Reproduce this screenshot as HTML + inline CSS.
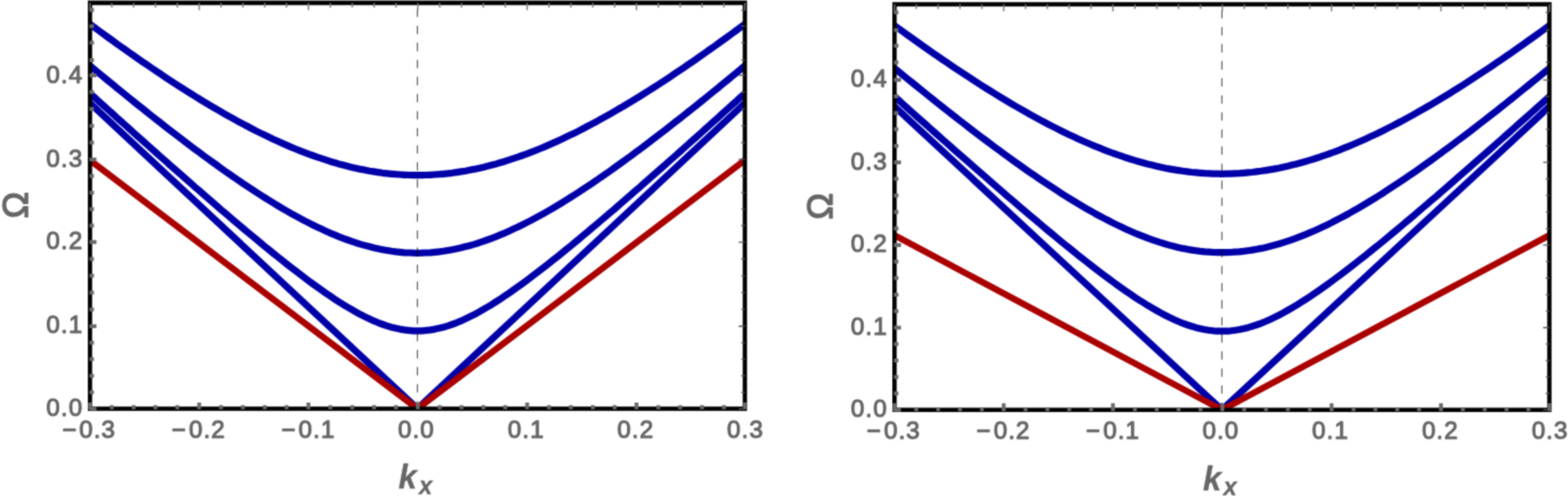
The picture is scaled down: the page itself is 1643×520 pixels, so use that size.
<!DOCTYPE html>
<html lang="en">
<head>
<meta charset="utf-8">
<title>Dispersion relations</title>
<style>
html,body{margin:0;padding:0;background:#fff;}
body{width:1643px;height:520px;overflow:hidden;}
svg{display:block;font-family:"Liberation Sans",Arial,Helvetica,sans-serif;}
</style>
</head>
<body>
<svg width="1643" height="520" viewBox="0 0 1643 520">
<defs>
<filter id="soft" x="0" y="0" width="1643" height="520" filterUnits="userSpaceOnUse" color-interpolation-filters="sRGB">
<feConvolveMatrix order="3" kernelMatrix="0.0400 0.1200 0.0400 0.1200 0.3600 0.1200 0.0400 0.1200 0.0400" edgeMode="duplicate" preserveAlpha="false"/>
</filter>
</defs>
<g filter="url(#soft)">
<rect width="1643" height="520" fill="#fff"/>
<g>
<clipPath id="clip1"><rect x="94.3" y="3.1" width="686.20" height="425.40"/></clipPath>
<g clip-path="url(#clip1)" fill="none" stroke="#0000a9" stroke-width="7.2" stroke-linejoin="round">
<polyline points="71.4,8.1 76.0,11.6 80.6,15.0 85.2,18.4 89.7,21.9 94.3,25.3 98.9,28.6 103.4,32.0 108.0,35.4 112.6,38.7 117.2,42.0 121.7,45.3 126.3,48.6 130.9,51.8 135.5,55.1 140.0,58.3 144.6,61.5 149.2,64.7 153.8,67.8 158.3,70.9 162.9,74.0 167.5,77.1 172.1,80.2 176.6,83.2 181.2,86.2 185.8,89.2 190.4,92.1 194.9,95.0 199.5,97.9 204.1,100.8 208.7,103.6 213.2,106.4 217.8,109.1 222.4,111.9 227.0,114.5 231.5,117.2 236.1,119.8 240.7,122.4 245.3,124.9 249.8,127.5 254.4,129.9 259.0,132.3 263.6,134.7 268.1,137.1 272.7,139.4 277.3,141.6 281.9,143.8 286.4,146.0 291.0,148.1 295.6,150.1 300.2,152.1 304.7,154.1 309.3,156.0 313.9,157.8 318.5,159.6 323.0,161.4 327.6,163.0 332.2,164.7 336.8,166.2 341.3,167.7 345.9,169.2 350.5,170.5 355.1,171.9 359.6,173.1 364.2,174.3 368.8,175.4 373.4,176.4 377.9,177.4 382.5,178.3 387.1,179.2 391.7,179.9 396.2,180.6 400.8,181.3 405.4,181.8 410.0,182.3 414.5,182.7 419.1,183.0 423.7,183.3 428.3,183.5 432.8,183.6 437.4,183.6 442.0,183.6 446.5,183.5 451.1,183.3 455.7,183.0 460.3,182.7 464.8,182.3 469.4,181.8 474.0,181.3 478.6,180.6 483.1,179.9 487.7,179.2 492.3,178.3 496.9,177.4 501.4,176.4 506.0,175.4 510.6,174.3 515.2,173.1 519.7,171.9 524.3,170.5 528.9,169.2 533.5,167.7 538.0,166.2 542.6,164.7 547.2,163.0 551.8,161.4 556.3,159.6 560.9,157.8 565.5,156.0 570.1,154.1 574.6,152.1 579.2,150.1 583.8,148.1 588.4,146.0 592.9,143.8 597.5,141.6 602.1,139.4 606.7,137.1 611.2,134.7 615.8,132.3 620.4,129.9 625.0,127.5 629.5,124.9 634.1,122.4 638.7,119.8 643.3,117.2 647.8,114.5 652.4,111.9 657.0,109.1 661.6,106.4 666.1,103.6 670.7,100.8 675.3,97.9 679.9,95.0 684.4,92.1 689.0,89.2 693.6,86.2 698.2,83.2 702.7,80.2 707.3,77.1 711.9,74.0 716.5,70.9 721.0,67.8 725.6,64.7 730.2,61.5 734.8,58.3 739.3,55.1 743.9,51.8 748.5,48.6 753.1,45.3 757.6,42.0 762.2,38.7 766.8,35.4 771.4,32.0 775.9,28.6 780.5,25.3 785.1,21.9 789.6,18.4 794.2,15.0 798.8,11.6 803.4,8.1"/>
<polyline points="71.4,49.8 76.0,53.6 80.6,57.5 85.2,61.3 89.7,65.1 94.3,68.9 98.9,72.7 103.4,76.5 108.0,80.3 112.6,84.1 117.2,87.8 121.7,91.6 126.3,95.3 130.9,99.0 135.5,102.7 140.0,106.4 144.6,110.1 149.2,113.7 153.8,117.4 158.3,121.0 162.9,124.6 167.5,128.2 172.1,131.8 176.6,135.4 181.2,138.9 185.8,142.4 190.4,145.9 194.9,149.4 199.5,152.8 204.1,156.3 208.7,159.7 213.2,163.1 217.8,166.4 222.4,169.7 227.0,173.0 231.5,176.3 236.1,179.6 240.7,182.8 245.3,185.9 249.8,189.1 254.4,192.2 259.0,195.3 263.6,198.3 268.1,201.3 272.7,204.2 277.3,207.1 281.9,210.0 286.4,212.8 291.0,215.6 295.6,218.3 300.2,221.0 304.7,223.6 309.3,226.1 313.9,228.6 318.5,231.1 323.0,233.4 327.6,235.7 332.2,238.0 336.8,240.1 341.3,242.2 345.9,244.3 350.5,246.2 355.1,248.1 359.6,249.8 364.2,251.5 368.8,253.1 373.4,254.7 377.9,256.1 382.5,257.4 387.1,258.6 391.7,259.8 396.2,260.8 400.8,261.7 405.4,262.5 410.0,263.3 414.5,263.9 419.1,264.4 423.7,264.8 428.3,265.0 432.8,265.2 437.4,265.3 442.0,265.2 446.5,265.0 451.1,264.8 455.7,264.4 460.3,263.9 464.8,263.3 469.4,262.5 474.0,261.7 478.6,260.8 483.1,259.8 487.7,258.6 492.3,257.4 496.9,256.1 501.4,254.7 506.0,253.1 510.6,251.5 515.2,249.8 519.7,248.1 524.3,246.2 528.9,244.3 533.5,242.2 538.0,240.1 542.6,238.0 547.2,235.7 551.8,233.4 556.3,231.1 560.9,228.6 565.5,226.1 570.1,223.6 574.6,221.0 579.2,218.3 583.8,215.6 588.4,212.8 592.9,210.0 597.5,207.1 602.1,204.2 606.7,201.3 611.2,198.3 615.8,195.3 620.4,192.2 625.0,189.1 629.5,185.9 634.1,182.8 638.7,179.6 643.3,176.3 647.8,173.0 652.4,169.7 657.0,166.4 661.6,163.1 666.1,159.7 670.7,156.3 675.3,152.8 679.9,149.4 684.4,145.9 689.0,142.4 693.6,138.9 698.2,135.4 702.7,131.8 707.3,128.2 711.9,124.6 716.5,121.0 721.0,117.4 725.6,113.7 730.2,110.1 734.8,106.4 739.3,102.7 743.9,99.0 748.5,95.3 753.1,91.6 757.6,87.8 762.2,84.1 766.8,80.3 771.4,76.5 775.9,72.7 780.5,68.9 785.1,65.1 789.6,61.3 794.2,57.5 798.8,53.6 803.4,49.8"/>
<polyline points="71.4,77.1 76.0,81.3 80.6,85.5 85.2,89.6 89.7,93.7 94.3,97.9 98.9,102.0 103.4,106.2 108.0,110.3 112.6,114.4 117.2,118.5 121.7,122.7 126.3,126.8 130.9,130.9 135.5,135.0 140.0,139.1 144.6,143.2 149.2,147.3 153.8,151.4 158.3,155.4 162.9,159.5 167.5,163.6 172.1,167.6 176.6,171.7 181.2,175.7 185.8,179.8 190.4,183.8 194.9,187.8 199.5,191.8 204.1,195.9 208.7,199.8 213.2,203.8 217.8,207.8 222.4,211.8 227.0,215.7 231.5,219.7 236.1,223.6 240.7,227.5 245.3,231.4 249.8,235.3 254.4,239.1 259.0,243.0 263.6,246.8 268.1,250.6 272.7,254.4 277.3,258.2 281.9,261.9 286.4,265.6 291.0,269.3 295.6,272.9 300.2,276.6 304.7,280.1 309.3,283.7 313.9,287.2 318.5,290.7 323.0,294.1 327.6,297.5 332.2,300.8 336.8,304.0 341.3,307.2 345.9,310.3 350.5,313.4 355.1,316.4 359.6,319.3 364.2,322.0 368.8,324.7 373.4,327.3 377.9,329.8 382.5,332.1 387.1,334.3 391.7,336.4 396.2,338.3 400.8,340.0 405.4,341.6 410.0,343.0 414.5,344.1 419.1,345.1 423.7,345.9 428.3,346.4 432.8,346.8 437.4,346.9 442.0,346.8 446.5,346.4 451.1,345.9 455.7,345.1 460.3,344.1 464.8,343.0 469.4,341.6 474.0,340.0 478.6,338.3 483.1,336.4 487.7,334.3 492.3,332.1 496.9,329.8 501.4,327.3 506.0,324.7 510.6,322.0 515.2,319.3 519.7,316.4 524.3,313.4 528.9,310.3 533.5,307.2 538.0,304.0 542.6,300.8 547.2,297.5 551.8,294.1 556.3,290.7 560.9,287.2 565.5,283.7 570.1,280.1 574.6,276.6 579.2,272.9 583.8,269.3 588.4,265.6 592.9,261.9 597.5,258.2 602.1,254.4 606.7,250.6 611.2,246.8 615.8,243.0 620.4,239.1 625.0,235.3 629.5,231.4 634.1,227.5 638.7,223.6 643.3,219.7 647.8,215.7 652.4,211.8 657.0,207.8 661.6,203.8 666.1,199.8 670.7,195.9 675.3,191.8 679.9,187.8 684.4,183.8 689.0,179.8 693.6,175.7 698.2,171.7 702.7,167.6 707.3,163.6 711.9,159.5 716.5,155.4 721.0,151.4 725.6,147.3 730.2,143.2 734.8,139.1 739.3,135.0 743.9,130.9 748.5,126.8 753.1,122.7 757.6,118.5 762.2,114.4 766.8,110.3 771.4,106.2 775.9,102.0 780.5,97.9 785.1,93.7 789.6,89.6 794.2,85.5 798.8,81.3 803.4,77.1"/>
<polyline points="71.43,86.76 437.40,428.50 803.37,86.76"/>
<polyline stroke="#aa0000" stroke-width="6.8" points="71.43,150.58 437.40,428.50 803.37,150.58"/>
</g>
<line x1="437.40" y1="3.1" x2="437.40" y2="428.5" stroke="#000" stroke-opacity="0.66" stroke-width="1.2" stroke-dasharray="8.8 9.09" stroke-dashoffset="-5.95"/>
<rect x="92.1" y="0" width="690.6" height="1.4" fill="#bdbdbd"/>
<rect x="94.3" y="3.1" width="686.20" height="425.40" fill="none" stroke="#000" stroke-width="4.5"/>
<path d="M94.3 429.1v-7.2M117.1 429.1v-4.4M140.0 429.1v-4.4M162.9 429.1v-4.4M185.8 429.1v-4.4M208.7 429.1v-7.2M231.6 429.1v-4.4M254.5 429.1v-4.4M277.4 429.1v-4.4M300.3 429.1v-4.4M323.2 429.1v-7.2M346.2 429.1v-4.4M369.1 429.1v-4.4M392.0 429.1v-4.4M414.9 429.1v-4.4M437.8 429.1v-7.2M460.7 429.1v-4.4M483.6 429.1v-4.4M506.5 429.1v-4.4M529.4 429.1v-4.4M552.4 429.1v-7.2M575.3 429.1v-4.4M598.2 429.1v-4.4M621.1 429.1v-4.4M644.0 429.1v-4.4M666.9 429.1v-7.2M689.8 429.1v-4.4M712.7 429.1v-4.4M735.6 429.1v-4.4M758.5 429.1v-4.4M780.5 429.1v-7.2M93.7 428.6h7.4M93.7 411.3h4.7M93.7 394.0h4.7M93.7 376.6h4.7M93.7 359.3h4.7M93.7 342.0h7.4M93.7 324.4h4.7M93.7 306.7h4.7M93.7 289.1h4.7M93.7 271.5h4.7M93.7 253.8h7.4M93.7 236.5h4.7M93.7 219.2h4.7M93.7 201.9h4.7M93.7 184.5h4.7M93.7 167.2h7.4M93.7 149.5h4.7M93.7 131.9h4.7M93.7 114.2h4.7M93.7 96.6h4.7M93.7 78.9h7.4M93.7 62.9h4.7M93.7 44.7h4.7M93.7 27.4h4.7M93.7 10.6h4.7" stroke="#6a6a6a" stroke-width="4.0" fill="none"/>
<path d="M94.3 3.1v7.6M117.1 3.1v5.0M140.0 3.1v5.0M162.9 3.1v5.0M185.8 3.1v5.0M208.7 3.1v7.6M231.6 3.1v5.0M254.5 3.1v5.0M277.4 3.1v5.0M300.3 3.1v5.0M323.2 3.1v7.6M346.2 3.1v5.0M369.1 3.1v5.0M392.0 3.1v5.0M414.9 3.1v5.0M437.8 3.1v7.6M460.7 3.1v5.0M483.6 3.1v5.0M506.5 3.1v5.0M529.4 3.1v5.0M552.4 3.1v7.6M575.3 3.1v5.0M598.2 3.1v5.0M621.1 3.1v5.0M644.0 3.1v5.0M666.9 3.1v7.6M689.8 3.1v5.0M712.7 3.1v5.0M735.6 3.1v5.0M758.5 3.1v5.0M780.5 3.1v7.6" stroke="#7a7a7a" stroke-width="1.4" fill="none"/>
<path d="M780.5 428.6h-6.6M780.5 411.3h-3.8M780.5 394.0h-3.8M780.5 376.6h-3.8M780.5 359.3h-3.8M780.5 342.0h-6.6M780.5 324.4h-3.8M780.5 306.7h-3.8M780.5 289.1h-3.8M780.5 271.5h-3.8M780.5 253.8h-6.6M780.5 236.5h-3.8M780.5 219.2h-3.8M780.5 201.9h-3.8M780.5 184.5h-3.8M780.5 167.2h-6.6M780.5 149.5h-3.8M780.5 131.9h-3.8M780.5 114.2h-3.8M780.5 96.6h-3.8M780.5 78.9h-6.6M780.5 62.9h-3.8M780.5 44.7h-3.8M780.5 27.4h-3.8M780.5 10.6h-3.8" stroke="#555" stroke-width="1.3" fill="none"/>
<g font-size="25.5" fill="#666" stroke="#666" stroke-width="1.1" stroke-linejoin="round" letter-spacing="1.05">
<text x="65.40" y="458.80">−<tspan x="83.00">0.3</tspan></text>
<text x="180.10" y="458.80">−<tspan x="198.00">0.2</tspan></text>
<text x="294.90" y="458.80">−<tspan x="312.80">0.1</tspan></text>
<text x="417.00" y="458.80">0.0</text>
<text x="532.10" y="458.80">0.1</text>
<text x="646.80" y="458.80">0.2</text>
<text x="761.80" y="458.80">0.3</text>
<text x="48.60" y="435.90">0.0</text>
<text x="48.60" y="349.45">0.1</text>
<text x="48.60" y="261.30">0.2</text>
<text x="48.60" y="174.70">0.3</text>
<text x="48.60" y="86.50">0.4</text>
</g>
<text x="417.60" y="512.30" font-size="34.5" font-style="italic" font-weight="bold" fill="#666" stroke="#666" stroke-width="0.3">k<tspan font-size="25" dx="2.2" dy="5.8">x</tspan></text>
<text transform="translate(28.90,214.90) rotate(-90)" font-size="37.5" text-anchor="middle" fill="#666" stroke="#666" stroke-width="1.4" stroke-linejoin="round">Ω</text>
</g>
<g>
<clipPath id="clip2"><rect x="937.3" y="4.5" width="686.20" height="425.20"/></clipPath>
<g clip-path="url(#clip2)" fill="none" stroke="#0000a9" stroke-width="7.2" stroke-linejoin="round">
<polyline points="914.4,9.8 919.0,13.3 923.6,16.7 928.2,20.0 932.7,23.4 937.3,26.8 941.9,30.1 946.4,33.4 951.0,36.7 955.6,40.0 960.2,43.3 964.7,46.5 969.3,49.8 973.9,53.0 978.5,56.2 983.0,59.3 987.6,62.5 992.2,65.6 996.8,68.7 1001.3,71.8 1005.9,74.8 1010.5,77.8 1015.1,80.8 1019.6,83.8 1024.2,86.8 1028.8,89.7 1033.4,92.6 1037.9,95.4 1042.5,98.3 1047.1,101.1 1051.7,103.9 1056.2,106.6 1060.8,109.3 1065.4,112.0 1070.0,114.6 1074.5,117.2 1079.1,119.8 1083.7,122.3 1088.3,124.8 1092.8,127.3 1097.4,129.7 1102.0,132.1 1106.6,134.4 1111.1,136.7 1115.7,139.0 1120.3,141.2 1124.9,143.3 1129.4,145.4 1134.0,147.5 1138.6,149.5 1143.2,151.5 1147.7,153.4 1152.3,155.2 1156.9,157.1 1161.5,158.8 1166.0,160.5 1170.6,162.1 1175.2,163.7 1179.8,165.3 1184.3,166.7 1188.9,168.1 1193.5,169.5 1198.1,170.8 1202.6,172.0 1207.2,173.1 1211.8,174.2 1216.4,175.2 1220.9,176.2 1225.5,177.1 1230.1,177.9 1234.7,178.6 1239.2,179.3 1243.8,179.9 1248.4,180.5 1253.0,180.9 1257.5,181.3 1262.1,181.7 1266.7,181.9 1271.3,182.1 1275.8,182.2 1280.4,182.3 1285.0,182.2 1289.5,182.1 1294.1,181.9 1298.7,181.7 1303.3,181.3 1307.8,180.9 1312.4,180.5 1317.0,179.9 1321.6,179.3 1326.1,178.6 1330.7,177.9 1335.3,177.1 1339.9,176.2 1344.4,175.2 1349.0,174.2 1353.6,173.1 1358.2,172.0 1362.7,170.8 1367.3,169.5 1371.9,168.1 1376.5,166.7 1381.0,165.3 1385.6,163.7 1390.2,162.1 1394.8,160.5 1399.3,158.8 1403.9,157.1 1408.5,155.2 1413.1,153.4 1417.6,151.5 1422.2,149.5 1426.8,147.5 1431.4,145.4 1435.9,143.3 1440.5,141.2 1445.1,139.0 1449.7,136.7 1454.2,134.4 1458.8,132.1 1463.4,129.7 1468.0,127.3 1472.5,124.8 1477.1,122.3 1481.7,119.8 1486.3,117.2 1490.8,114.6 1495.4,112.0 1500.0,109.3 1504.6,106.6 1509.1,103.9 1513.7,101.1 1518.3,98.3 1522.9,95.4 1527.4,92.6 1532.0,89.7 1536.6,86.8 1541.2,83.8 1545.7,80.8 1550.3,77.8 1554.9,74.8 1559.5,71.8 1564.0,68.7 1568.6,65.6 1573.2,62.5 1577.8,59.3 1582.3,56.2 1586.9,53.0 1591.5,49.8 1596.1,46.5 1600.6,43.3 1605.2,40.0 1609.8,36.7 1614.4,33.4 1618.9,30.1 1623.5,26.8 1628.1,23.4 1632.6,20.0 1637.2,16.7 1641.8,13.3 1646.4,9.8"/>
<polyline points="914.4,52.5 919.0,56.3 923.6,60.1 928.2,63.9 932.7,67.7 937.3,71.5 941.9,75.2 946.4,79.0 951.0,82.7 955.6,86.4 960.2,90.1 964.7,93.8 969.3,97.5 973.9,101.2 978.5,104.9 983.0,108.5 987.6,112.1 992.2,115.8 996.8,119.4 1001.3,122.9 1005.9,126.5 1010.5,130.0 1015.1,133.6 1019.6,137.1 1024.2,140.6 1028.8,144.1 1033.4,147.5 1037.9,150.9 1042.5,154.3 1047.1,157.7 1051.7,161.1 1056.2,164.4 1060.8,167.7 1065.4,171.0 1070.0,174.3 1074.5,177.5 1079.1,180.7 1083.7,183.8 1088.3,187.0 1092.8,190.0 1097.4,193.1 1102.0,196.1 1106.6,199.1 1111.1,202.1 1115.7,205.0 1120.3,207.8 1124.9,210.6 1129.4,213.4 1134.0,216.1 1138.6,218.8 1143.2,221.4 1147.7,224.0 1152.3,226.5 1156.9,228.9 1161.5,231.3 1166.0,233.6 1170.6,235.9 1175.2,238.1 1179.8,240.2 1184.3,242.2 1188.9,244.2 1193.5,246.1 1198.1,247.9 1202.6,249.7 1207.2,251.3 1211.8,252.9 1216.4,254.4 1220.9,255.8 1225.5,257.1 1230.1,258.3 1234.7,259.4 1239.2,260.4 1243.8,261.3 1248.4,262.1 1253.0,262.8 1257.5,263.4 1262.1,263.9 1266.7,264.2 1271.3,264.5 1275.8,264.7 1280.4,264.7 1285.0,264.7 1289.5,264.5 1294.1,264.2 1298.7,263.9 1303.3,263.4 1307.8,262.8 1312.4,262.1 1317.0,261.3 1321.6,260.4 1326.1,259.4 1330.7,258.3 1335.3,257.1 1339.9,255.8 1344.4,254.4 1349.0,252.9 1353.6,251.3 1358.2,249.7 1362.7,247.9 1367.3,246.1 1371.9,244.2 1376.5,242.2 1381.0,240.2 1385.6,238.1 1390.2,235.9 1394.8,233.6 1399.3,231.3 1403.9,228.9 1408.5,226.5 1413.1,224.0 1417.6,221.4 1422.2,218.8 1426.8,216.1 1431.4,213.4 1435.9,210.6 1440.5,207.8 1445.1,205.0 1449.7,202.1 1454.2,199.1 1458.8,196.1 1463.4,193.1 1468.0,190.0 1472.5,187.0 1477.1,183.8 1481.7,180.7 1486.3,177.5 1490.8,174.3 1495.4,171.0 1500.0,167.7 1504.6,164.4 1509.1,161.1 1513.7,157.7 1518.3,154.3 1522.9,150.9 1527.4,147.5 1532.0,144.1 1536.6,140.6 1541.2,137.1 1545.7,133.6 1550.3,130.0 1554.9,126.5 1559.5,122.9 1564.0,119.4 1568.6,115.8 1573.2,112.1 1577.8,108.5 1582.3,104.9 1586.9,101.2 1591.5,97.5 1596.1,93.8 1600.6,90.1 1605.2,86.4 1609.8,82.7 1614.4,79.0 1618.9,75.2 1623.5,71.5 1628.1,67.7 1632.6,63.9 1637.2,60.1 1641.8,56.3 1646.4,52.5"/>
<polyline points="914.4,80.6 919.0,84.7 923.6,88.9 928.2,93.0 932.7,97.1 937.3,101.2 941.9,105.3 946.4,109.4 951.0,113.5 955.6,117.6 960.2,121.7 964.7,125.7 969.3,129.8 973.9,133.9 978.5,138.0 983.0,142.0 987.6,146.1 992.2,150.1 996.8,154.2 1001.3,158.2 1005.9,162.3 1010.5,166.3 1015.1,170.3 1019.6,174.3 1024.2,178.3 1028.8,182.3 1033.4,186.3 1037.9,190.3 1042.5,194.3 1047.1,198.3 1051.7,202.2 1056.2,206.2 1060.8,210.1 1065.4,214.0 1070.0,217.9 1074.5,221.8 1079.1,225.7 1083.7,229.6 1088.3,233.4 1092.8,237.3 1097.4,241.1 1102.0,244.9 1106.6,248.7 1111.1,252.5 1115.7,256.2 1120.3,259.9 1124.9,263.6 1129.4,267.3 1134.0,270.9 1138.6,274.5 1143.2,278.1 1147.7,281.6 1152.3,285.1 1156.9,288.6 1161.5,292.0 1166.0,295.4 1170.6,298.7 1175.2,302.0 1179.8,305.2 1184.3,308.3 1188.9,311.4 1193.5,314.4 1198.1,317.3 1202.6,320.2 1207.2,322.9 1211.8,325.5 1216.4,328.1 1220.9,330.5 1225.5,332.8 1230.1,334.9 1234.7,337.0 1239.2,338.8 1243.8,340.5 1248.4,342.0 1253.0,343.4 1257.5,344.5 1262.1,345.5 1266.7,346.2 1271.3,346.8 1275.8,347.1 1280.4,347.2 1285.0,347.1 1289.5,346.8 1294.1,346.2 1298.7,345.5 1303.3,344.5 1307.8,343.4 1312.4,342.0 1317.0,340.5 1321.6,338.8 1326.1,337.0 1330.7,334.9 1335.3,332.8 1339.9,330.5 1344.4,328.1 1349.0,325.5 1353.6,322.9 1358.2,320.2 1362.7,317.3 1367.3,314.4 1371.9,311.4 1376.5,308.3 1381.0,305.2 1385.6,302.0 1390.2,298.7 1394.8,295.4 1399.3,292.0 1403.9,288.6 1408.5,285.1 1413.1,281.6 1417.6,278.1 1422.2,274.5 1426.8,270.9 1431.4,267.3 1435.9,263.6 1440.5,259.9 1445.1,256.2 1449.7,252.5 1454.2,248.7 1458.8,244.9 1463.4,241.1 1468.0,237.3 1472.5,233.4 1477.1,229.6 1481.7,225.7 1486.3,221.8 1490.8,217.9 1495.4,214.0 1500.0,210.1 1504.6,206.2 1509.1,202.2 1513.7,198.3 1518.3,194.3 1522.9,190.3 1527.4,186.3 1532.0,182.3 1536.6,178.3 1541.2,174.3 1545.7,170.3 1550.3,166.3 1554.9,162.3 1559.5,158.2 1564.0,154.2 1568.6,150.1 1573.2,146.1 1577.8,142.0 1582.3,138.0 1586.9,133.9 1591.5,129.8 1596.1,125.7 1600.6,121.7 1605.2,117.6 1609.8,113.5 1614.4,109.4 1618.9,105.3 1623.5,101.2 1628.1,97.1 1632.6,93.0 1637.2,88.9 1641.8,84.7 1646.4,80.6"/>
<polyline points="914.43,90.51 1280.40,429.70 1646.37,90.51"/>
<polyline stroke="#aa0000" stroke-width="6.8" points="914.43,234.44 1280.40,429.70 1646.37,234.44"/>
</g>
<line x1="1280.40" y1="4.5" x2="1280.40" y2="429.7" stroke="#000" stroke-opacity="0.66" stroke-width="1.2" stroke-dasharray="8.8 9.09" stroke-dashoffset="-5.95"/>
<rect x="937.3" y="4.5" width="686.20" height="425.20" fill="none" stroke="#000" stroke-width="4.5"/>
<path d="M937.3 430.9v-8.2M960.1 430.9v-3.9M983.0 430.9v-3.9M1005.9 430.9v-3.9M1028.8 430.9v-3.9M1051.7 430.9v-8.2M1074.6 430.9v-3.9M1097.5 430.9v-3.9M1120.4 430.9v-3.9M1143.3 430.9v-3.9M1166.2 430.9v-8.2M1189.2 430.9v-3.9M1212.1 430.9v-3.9M1235.0 430.9v-3.9M1257.9 430.9v-3.9M1280.8 430.9v-8.2M1303.7 430.9v-3.9M1326.6 430.9v-3.9M1349.5 430.9v-3.9M1372.4 430.9v-3.9M1395.3 430.9v-8.2M1418.3 430.9v-3.9M1441.2 430.9v-3.9M1464.1 430.9v-3.9M1487.0 430.9v-3.9M1509.9 430.9v-8.2M1532.8 430.9v-3.9M1555.7 430.9v-3.9M1578.6 430.9v-3.9M1601.5 430.9v-3.9M1623.5 430.9v-8.2M936.7 429.7h7.4M936.7 412.5h4.7M936.7 395.2h4.7M936.7 378.0h4.7M936.7 360.7h4.7M936.7 343.5h7.4M936.7 326.2h4.7M936.7 308.9h4.7M936.7 291.5h4.7M936.7 274.2h4.7M936.7 256.9h7.4M936.7 239.6h4.7M936.7 222.2h4.7M936.7 204.9h4.7M936.7 187.5h4.7M936.7 170.2h7.4M936.7 152.9h4.7M936.7 135.6h4.7M936.7 118.4h4.7M936.7 101.1h4.7M936.7 83.8h7.4M936.7 65.4h4.7M936.7 47.9h4.7M936.7 31.5h4.7M936.7 13.0h4.7" stroke="#6a6a6a" stroke-width="4.0" fill="none"/>
<path d="M937.3 4.5v7.6M960.1 4.5v5.0M983.0 4.5v5.0M1005.9 4.5v5.0M1028.8 4.5v5.0M1051.7 4.5v7.6M1074.6 4.5v5.0M1097.5 4.5v5.0M1120.4 4.5v5.0M1143.3 4.5v5.0M1166.2 4.5v7.6M1189.2 4.5v5.0M1212.1 4.5v5.0M1235.0 4.5v5.0M1257.9 4.5v5.0M1280.8 4.5v7.6M1303.7 4.5v5.0M1326.6 4.5v5.0M1349.5 4.5v5.0M1372.4 4.5v5.0M1395.3 4.5v7.6M1418.3 4.5v5.0M1441.2 4.5v5.0M1464.1 4.5v5.0M1487.0 4.5v5.0M1509.9 4.5v7.6M1532.8 4.5v5.0M1555.7 4.5v5.0M1578.6 4.5v5.0M1601.5 4.5v5.0M1623.5 4.5v7.6" stroke="#7a7a7a" stroke-width="1.4" fill="none"/>
<path d="M1623.5 429.7h-6.6M1623.5 412.5h-3.8M1623.5 395.2h-3.8M1623.5 378.0h-3.8M1623.5 360.7h-3.8M1623.5 343.5h-6.6M1623.5 326.2h-3.8M1623.5 308.9h-3.8M1623.5 291.5h-3.8M1623.5 274.2h-3.8M1623.5 256.9h-6.6M1623.5 239.6h-3.8M1623.5 222.2h-3.8M1623.5 204.9h-3.8M1623.5 187.5h-3.8M1623.5 170.2h-6.6M1623.5 152.9h-3.8M1623.5 135.6h-3.8M1623.5 118.4h-3.8M1623.5 101.1h-3.8M1623.5 83.8h-6.6M1623.5 65.4h-3.8M1623.5 47.9h-3.8M1623.5 31.5h-3.8M1623.5 13.0h-3.8" stroke="#555" stroke-width="1.3" fill="none"/>
<g font-size="25.5" fill="#666" stroke="#666" stroke-width="1.1" stroke-linejoin="round" letter-spacing="1.05">
<text x="908.20" y="460.05">−<tspan x="926.20">0.3</tspan></text>
<text x="1023.30" y="460.05">−<tspan x="1041.20">0.2</tspan></text>
<text x="1138.00" y="460.05">−<tspan x="1156.00">0.1</tspan></text>
<text x="1260.00" y="460.05">0.0</text>
<text x="1374.80" y="460.05">0.1</text>
<text x="1489.90" y="460.05">0.2</text>
<text x="1604.90" y="460.05">0.3</text>
<text x="891.60" y="437.45">0.0</text>
<text x="891.60" y="351.00">0.1</text>
<text x="891.60" y="264.20">0.2</text>
<text x="891.60" y="177.80">0.3</text>
<text x="891.60" y="91.00">0.4</text>
</g>
<text x="1260.60" y="513.50" font-size="34.5" font-style="italic" font-weight="bold" fill="#666" stroke="#666" stroke-width="0.3">k<tspan font-size="25" dx="2.2" dy="5.8">x</tspan></text>
<text transform="translate(871.90,216.20) rotate(-90)" font-size="37.5" text-anchor="middle" fill="#666" stroke="#666" stroke-width="1.4" stroke-linejoin="round">Ω</text>
</g>
</g>
</svg>
</body>
</html>
